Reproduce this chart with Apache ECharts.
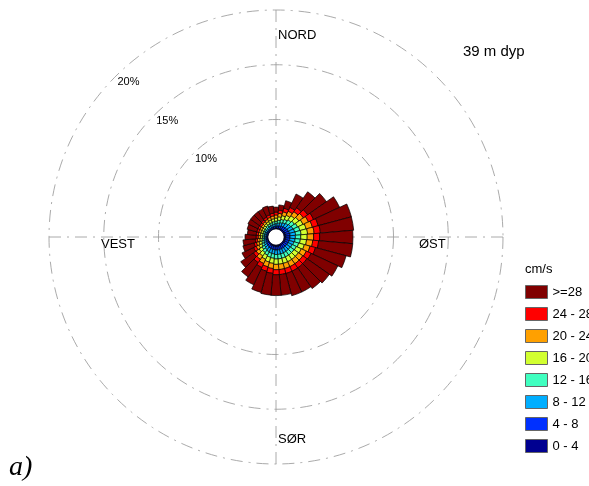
<!DOCTYPE html>
<html><head><meta charset="utf-8">
<script src="https://cdn.jsdelivr.net/npm/echarts@6/dist/echarts.min.js"></script>
<style>html,body{margin:0;padding:0;background:#fff}#c{width:589px;height:486px}</style>
</head><body><div id="c"></div>
<script>
// direction sectors (degrees, clockwise from north)
const directions = ['0','10','20','30','40','50','60','70','80','90','100','110','120','130','140','150','160','170','180','190','200','210','220','230','240','250','260','270','280','290','300','310','320','330','340','350'];

// frequency (%) per speed class and direction
const s0_4   = [.08,.09,.10,.11,.13,.14,.15,.16,.17,.16,.16,.15,.14,.14,.14,.14,.14,.14,.14,.13,.13,.12,.11,.09,.08,.07,.06,.05,.05,.05,.05,.05,.06,.06,.07,.07];
const s4_8   = [.18,.21,.24,.27,.30,.34,.37,.39,.40,.39,.38,.36,.34,.32,.32,.32,.32,.32,.32,.31,.30,.28,.25,.22,.18,.16,.14,.13,.13,.13,.13,.13,.14,.15,.16,.17];
const s8_12  = [.23,.26,.30,.34,.38,.42,.46,.49,.50,.49,.48,.45,.42,.41,.41,.41,.41,.41,.41,.39,.38,.35,.32,.27,.23,.20,.18,.16,.16,.16,.16,.16,.18,.19,.20,.22];
const s12_16 = [.23,.26,.30,.34,.38,.42,.46,.49,.50,.49,.48,.45,.42,.41,.41,.41,.41,.41,.41,.39,.38,.35,.32,.27,.23,.20,.18,.16,.16,.16,.16,.16,.18,.19,.20,.22];
const s16_20 = [.28,.31,.36,.41,.46,.50,.55,.59,.60,.59,.57,.54,.50,.49,.49,.49,.49,.49,.49,.47,.45,.42,.38,.32,.28,.25,.21,.20,.20,.20,.20,.20,.21,.23,.25,.26];
const s20_24 = [.28,.31,.36,.41,.46,.50,.55,.59,.60,.59,.57,.54,.50,.49,.49,.49,.49,.49,.49,.47,.45,.42,.38,.32,.28,.25,.21,.20,.20,.20,.20,.20,.21,.23,.25,.26];
const s24_28 = [.26,.29,.34,.38,.43,.48,.52,.55,.57,.55,.54,.51,.48,.46,.46,.46,.46,.46,.46,.44,.42,.40,.36,.31,.26,.23,.20,.19,.19,.19,.19,.19,.20,.22,.23,.25];
const s28    = [.46,.48,.70,1.34,1.77,2.10,2.62,3.14,3.05,3.04,3.13,2.90,2.70,2.50,2.30,2.10,2.10,1.90,1.90,2.00,2.00,1.75,1.60,1.40,1.16,1.04,1.12,1.01,.81,.91,1.01,1.01,.92,.83,.84,.65];

const classNames = ['0 - 4','4 - 8','8 - 12','12 - 16','16 - 20','20 - 24','24 - 28','>=28'];
const classData  = [s0_4, s4_8, s8_12, s12_16, s16_20, s20_24, s24_28, s28];
const classColors = ['#000090','#0030FF','#00AEFF','#40FFC0','#D2FF30','#FFA000','#FF0000','#800000'];

// radius axis ticks (%)
const radiusMin = 0, radiusMax = 20, radiusStep = 5;

const font = 'Liberation Sans, Arial, sans-serif';
const dash = [12, 6, 2, 6];
const gridColor = '#a0a0a0';

const chart = echarts.init(document.getElementById('c'), null, {renderer: 'canvas'});
chart.setOption({
  animation: false,
  backgroundColor: '#fff',
  polar: [
    {center: [276, 237], radius: [8, 227]},
    {center: [276, 237], radius: [8, 227]}
  ],
  angleAxis: [
    {polarIndex: 0, type: 'category', data: directions, startAngle: 95, boundaryGap: true,
     axisLine: {show: false}, axisTick: {show: false}, axisLabel: {show: false}, splitLine: {show: false}},
    {polarIndex: 1, type: 'value', min: 0, max: 360, interval: 45, startAngle: 135,
     axisLine: {show: false}, axisTick: {show: false}, axisLabel: {show: false},
     splitLine: {show: true, lineStyle: {color: ['rgba(0,0,0,0)', gridColor], type: dash, width: 0.9}}}
  ],
  radiusAxis: [
    {polarIndex: 0, min: radiusMin, max: radiusMax, show: false},
    {polarIndex: 1, min: radiusMin, max: radiusMax, interval: radiusStep,
     axisLine: {show: false}, axisTick: {show: false},
     axisLabel: {formatter: v => v >= 10 ? v + '%' : '', margin: 0, align: 'center', verticalAlign: 'top',
                 padding: [0, 0, 0, 26], fontSize: 11, color: '#000', fontFamily: font},
     splitLine: {show: true, lineStyle: {color: ['rgba(0,0,0,0)', 'rgba(0,0,0,0)', gridColor, gridColor, gridColor], type: dash, width: 0.9}}}
  ],
  legend: {
    orient: 'vertical', left: 525, top: 285, padding: 0, itemWidth: 22, itemHeight: 13, itemGap: 8,
    icon: 'rect', selectedMode: false,
    data: classNames.slice().reverse(),
    textStyle: {fontSize: 13, fontFamily: font, color: '#000'},
    itemStyle: {borderColor: '#666', borderWidth: 1}
  },
  series: classNames.map((n, i) => ({
    name: n, type: 'bar', coordinateSystem: 'polar', polarIndex: 0, stack: 'rose',
    barCategoryGap: '0%', data: classData[i],
    itemStyle: {color: classColors[i], borderColor: '#000', borderWidth: 0.7}
  })),
  graphic: [
    {type: 'text', left: 278, top: 29, style: {text: 'NORD', font: '13px ' + font, fill: '#000'}},
    {type: 'text', left: 278, top: 433, style: {text: 'SØR', font: '13px ' + font, fill: '#000'}},
    {type: 'text', left: 101, top: 238, style: {text: 'VEST', font: '13px ' + font, fill: '#000'}},
    {type: 'text', left: 419, top: 238, style: {text: 'ØST', font: '13px ' + font, fill: '#000'}},
    {type: 'text', left: 463, top: 44, style: {text: '39 m dyp', font: '15px ' + font, fill: '#000'}},
    {type: 'text', left: 525, top: 263, style: {text: 'cm/s', font: '13px ' + font, fill: '#000'}},
    {type: 'text', left: 9, top: 454, style: {text: 'a)', font: 'italic 28px Liberation Serif, serif', fill: '#000'}}
  ]
});
</script></body></html>
